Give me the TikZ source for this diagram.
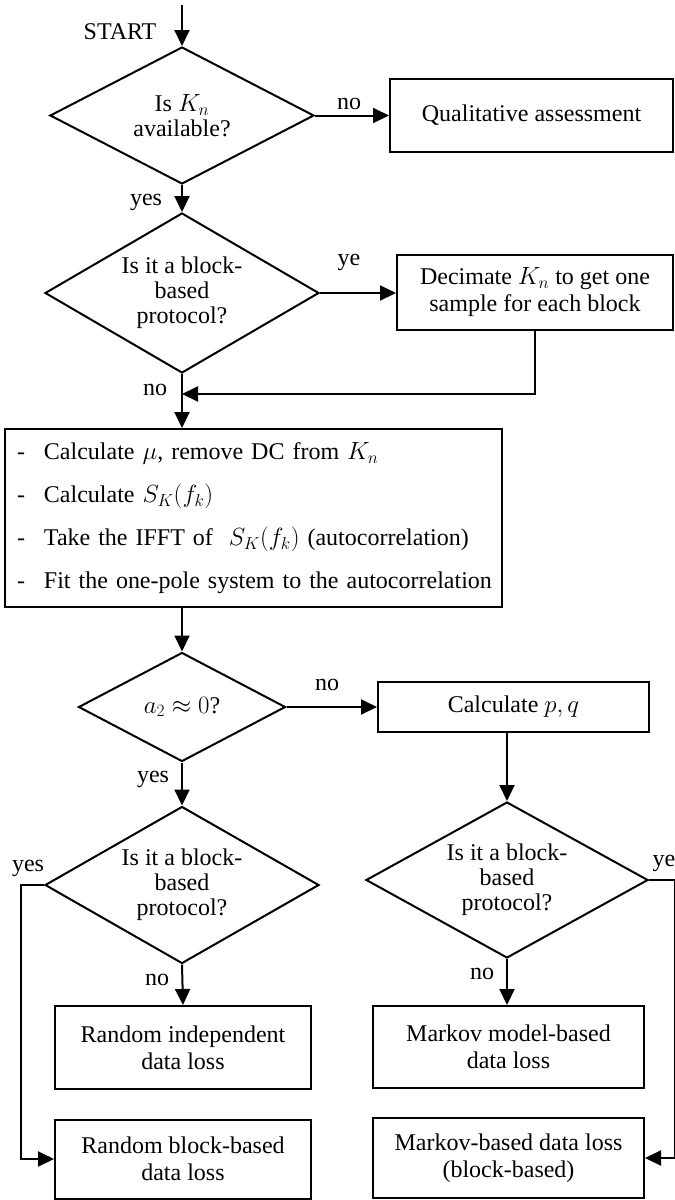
\documentclass[tikz,border=0pt]{standalone}
\usepackage{fontspec}
\setmainfont{Liberation Serif}
\usetikzlibrary{shapes.geometric,arrows.meta}
\begin{document}
\begin{tikzpicture}[x=1pt,y=-1pt, line width=2pt,
  every node/.style={font=\fontsize{24}{25}\selectfont, inner sep=0pt},
  decision/.style={diamond, draw, aspect=2, align=center},
  procbox/.style={rectangle, draw, align=center, font=\fontsize{24}{27}\selectfont},
  arr/.style={-{Triangle[length=16pt,width=15pt]}}]
\useasboundingbox (0,0) rectangle (675,1200);

% nodes
\coordinate (start) at (182,5);
\node (starttxt) at (120,32) {START};
\node[decision, minimum width=264pt, minimum height=137pt] (d1) at (182,115.5) {Is $K_n$\\available?};
\node[procbox, minimum width=283pt, minimum height=73pt] (q1) at (531.5,115.5) {Qualitative assessment};
\node[decision, minimum width=274pt, minimum height=160pt] (d2) at (182,293) {Is it a block-\\based\\protocol?};
\node[procbox, minimum width=276pt, minimum height=75pt] (dec) at (535,292.5) {Decimate $K_n$ to get one\\sample for each block};
\coordinate (j1) at (182,394);
\node[draw, rectangle, minimum height=178pt, text width=473pt, inner xsep=12pt, inner ysep=0pt, align=left,
      font=\fontsize{24}{43}\selectfont] (big) at (253.5,518)
  {\mbox{\makebox[27pt][l]{-}Calculate $\mu$, remove DC from $K_n$}\\
   \mbox{\makebox[27pt][l]{-}Calculate $S_K(f_k)$}\\
   \mbox{\makebox[27pt][l]{-}Take the IFFT of \ $S_K(f_k)$ (autocorrelation)}\\
   \mbox{\makebox[27pt][l]{-}Fit the one-pole system to the autocorrelation}};
\node[decision, minimum width=207pt, minimum height=109pt] (d3) at (182,707) {$a_2\approx 0$?};
\node[procbox, minimum width=271pt, minimum height=50pt] (calc) at (513.5,707) {Calculate $p,q$};
\node[decision, minimum width=274pt, minimum height=157pt] (d4l) at (182,885) {Is it a block-\\based\\protocol?};
\node[decision, minimum width=282pt, minimum height=156pt] (d4r) at (507,880) {Is it a block-\\based\\protocol?};
\node[procbox, minimum width=256pt, minimum height=83pt] (rin) at (183,1047.5) {Random independent\\data loss};
\node[procbox, minimum width=256pt, minimum height=79pt] (rbb) at (183,1159) {Random block-based\\data loss};
\node[procbox, minimum width=271pt, minimum height=82pt] (mm) at (508.5,1047) {Markov model-based\\data loss};
\node[procbox, minimum width=271pt, minimum height=80pt] (mb) at (508.5,1158) {Markov-based data loss\\(block-based)};

% labels
\node (l1) at (349,104) {no};
\node (l2) at (146,202) {yes};
\node (l3) at (349,262) {ye};
\node (l4) at (155,390) {no};
\node (l5) at (327,685) {no};
\node (l6) at (153,779) {yes};
\node (l7) at (28,868) {yes};
\node (l8) at (664,863) {ye};
\node (l9) at (157,980) {no};
\node (l10) at (482,974) {no};

% connectors
\draw[arr] (start) -- (d1.north);
\draw[arr] (d1.east) -- (q1.west);
\draw[arr] (d1.south) -- (d2.north);
\draw[arr] (d2.east) -- (dec.west |- d2.east);
\draw[arr] (dec.south) -- (dec.south |- j1) -- (j1);
\draw[arr] (d2.south) -- (big.north -| d2.south);
\draw[arr] (big.south -| d3.north) -- (d3.north);
\draw[arr] (d3.east) -- (calc.west);
\draw[arr] (d4r.north |- calc.south) -- (d4r.north);
\draw[arr] (d3.south) -- (d4l.north);
\draw[arr] (d4l.south) -- (rin.north);
\draw[arr] (d4r.south) -- (mm.north -| d4r.south);
\draw[arr] (d4l.west) -- ++(-23,0) |- (rbb.west);
\draw[arr] (d4r.east) -- ++(25.5,0) |- (mb.east);
\end{tikzpicture}
\end{document}
